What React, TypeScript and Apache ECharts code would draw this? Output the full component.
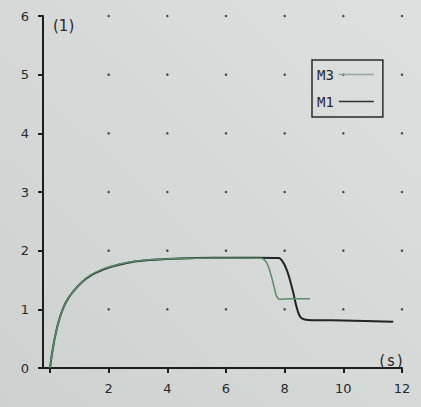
import React, { useEffect, useRef } from "react";
import * as echarts from "echarts";

const xLabels = [2, 4, 6, 8, 10, 12];
const dotX = [2, 4, 6, 8, 10, 12];
const dotY = [1, 2, 3, 4, 5, 6];

const m1Data: [number, number][] = [
  [0, 0], [0.08, 0.28], [0.17, 0.53], [0.3, 0.8], [0.45, 1.02], [0.6, 1.17], [0.79, 1.3],
  [1.0, 1.42], [1.25, 1.53], [1.55, 1.62], [1.93, 1.7], [2.35, 1.76], [2.84, 1.81],
  [3.4, 1.84], [3.97, 1.86], [5.0, 1.875], [6.13, 1.88], [7.0, 1.88], [7.8, 1.875],
  [7.95, 1.8], [8.08, 1.66], [8.18, 1.5], [8.3, 1.27], [8.4, 1.05], [8.5, 0.9],
  [8.6, 0.84], [8.8, 0.82], [10, 0.81], [11.7, 0.79],
];

const m3Data: [number, number][] = [
  [0, 0], [0.08, 0.28], [0.17, 0.53], [0.3, 0.8], [0.45, 1.02], [0.6, 1.17], [0.79, 1.3],
  [1.0, 1.42], [1.25, 1.54], [1.55, 1.63], [1.93, 1.71], [2.35, 1.77], [2.84, 1.815],
  [3.4, 1.845], [3.97, 1.86], [5.0, 1.87], [6.13, 1.875], [7.2, 1.87], [7.35, 1.82],
  [7.45, 1.72], [7.55, 1.56], [7.65, 1.36], [7.72, 1.23], [7.84, 1.17], [8.2, 1.18],
  [8.86, 1.18],
];

const legendNames = ["M3", "M1"];

export default function App() {
  const ref = useRef<HTMLDivElement>(null);
  useEffect(() => {
    document.body.style.margin = "0";
    const chart = echarts.init(ref.current!, null, { renderer: "svg" });
    const dots: [number, number][] = [];
    dotX.forEach((x) => dotY.forEach((y) => dots.push([x, y])));
    const ink = "#1e1e1e";
    const txt = "#2a2a2a";
    chart.setOption({
      animation: false,
      backgroundColor: {
        type: "linear",
        x: 1,
        y: 0,
        x2: 0,
        y2: 1,
        colorStops: [
          { offset: 0, color: "#dde0df" },
          { offset: 1, color: "#cdd1d0" },
        ],
      },
      grid: [
        { left: 50, right: 19, top: 16, bottom: 39, outerBoundsMode: "none" },
        { left: 43, right: 19, top: 16, bottom: 39, outerBoundsMode: "none" },
      ],
      legend: {
        data: legendNames,
        orient: "vertical",
        align: "right",
        left: 312,
        top: 60,
        padding: [6, 9, 7, 5],
        icon: "rect",
        itemGap: 10,
        itemWidth: 35,
        itemHeight: 1.5,
        borderColor: "#2a2a2a",
        borderWidth: 1.5,
        textStyle: { fontFamily: "DejaVu Sans Mono", fontSize: 14, color: txt, lineHeight: 17 },
      },
      xAxis: [
        {
          gridIndex: 0,
          type: "value",
          min: 0,
          max: 12,
          interval: 2,
          axisLine: { show: false },
          axisTick: { show: true, length: 5, lineStyle: { width: 2, color: ink } },
          axisLabel: {
            customValues: xLabels,
            fontFamily: "DejaVu Sans",
            fontSize: 13,
            color: txt,
            margin: 14,
          },
          splitLine: { show: false },
        },
        {
          gridIndex: 1,
          type: "value",
          min: -0.25,
          max: 12,
          name: "(s)",
          nameLocation: "end",
          nameGap: -11,
          nameTextStyle: {
            fontFamily: "DejaVu Sans Mono",
            fontSize: 15,
            color: txt,
            align: "center",
            verticalAlign: "bottom",
            padding: [0, 0, 0, 0],
          },
          axisLine: { onZero: false, lineStyle: { color: ink, width: 2 } },
          axisTick: { show: false },
          axisLabel: { show: false },
          splitLine: { show: false },
        },
      ],
      yAxis: [
        {
          gridIndex: 0,
          type: "value",
          min: 0,
          max: 6,
          interval: 1,
          show: false,
        },
        {
          gridIndex: 1,
          type: "value",
          min: 0,
          max: 6,
          interval: 1,
          name: "(1)",
          nameLocation: "end",
          nameGap: -10,
          nameTextStyle: {
            fontFamily: "DejaVu Sans",
            fontSize: 15,
            color: txt,
            align: "left",
            verticalAlign: "middle",
            padding: [0, 0, 0, 10],
          },
          axisLine: { show: true, onZero: false, lineStyle: { color: ink, width: 2 } },
          axisTick: { show: true, length: 5, lineStyle: { width: 2, color: ink } },
          axisLabel: { fontFamily: "DejaVu Sans", fontSize: 13, color: txt, margin: 14 },
          splitLine: { show: false },
        },
      ],
      series: [
        {
          type: "scatter",
          xAxisIndex: 0,
          yAxisIndex: 0,
          data: dots,
          symbolSize: 2.5,
          itemStyle: { color: "#222" },
          silent: true,
        },
        {
          name: "M1",
          type: "line",
          xAxisIndex: 0,
          yAxisIndex: 0,
          data: m1Data,
          symbol: "none",
          smooth: 0.3,
          lineStyle: { color: "#1f2420", width: 2 },
          itemStyle: { color: "#2a302b" },
        },
        {
          name: "M3",
          type: "line",
          xAxisIndex: 0,
          yAxisIndex: 0,
          data: m3Data,
          symbol: "none",
          smooth: 0.3,
          lineStyle: { color: "#5a8c68", width: 1.5 },
          itemStyle: { color: "#93aa9a" },
        },
      ],
    });
    return () => chart.dispose();
  }, []);
  return <div ref={ref} style={{ width: 421, height: 407 }} />;
}
